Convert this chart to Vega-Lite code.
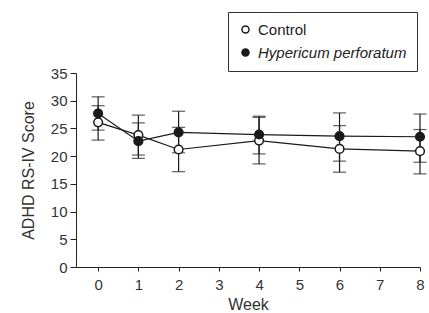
{
  "$schema": "https://vega.github.io/schema/vega-lite/v6.json",
  "autosize": "none",
  "width": 344,
  "height": 194,
  "padding": {"left": 76, "top": 73, "right": 9, "bottom": 46},
  "background": "white",
  "config": {
    "view": {"stroke": null},
    "font": "Liberation Sans",
    "axis": {
      "grid": false,
      "domainColor": "#222",
      "tickColor": "#222",
      "labelColor": "#333",
      "titleColor": "#333",
      "labelFontSize": 15,
      "titleFontSize": 16,
      "titleFontWeight": "normal",
      "labelFont": "Liberation Sans",
      "titleFont": "Liberation Sans",
      "labelOverlap": false
    }
  },
  "data": {
    "values": [
      {"week": 0, "group": "Control", "mean": 26.1, "lo": 22.9, "hi": 29.1},
      {"week": 1, "group": "Control", "mean": 23.8, "lo": 20.2, "hi": 27.4},
      {"week": 2, "group": "Control", "mean": 21.2, "lo": 17.2, "hi": 25.2},
      {"week": 4, "group": "Control", "mean": 22.8, "lo": 18.6, "hi": 27.0},
      {"week": 6, "group": "Control", "mean": 21.3, "lo": 17.1, "hi": 25.5},
      {"week": 8, "group": "Control", "mean": 20.9, "lo": 16.8, "hi": 24.8},
      {"week": 0, "group": "Hypericum perforatum", "mean": 27.7, "lo": 24.7, "hi": 30.7},
      {"week": 1, "group": "Hypericum perforatum", "mean": 22.7, "lo": 19.6, "hi": 26.0},
      {"week": 2, "group": "Hypericum perforatum", "mean": 24.3, "lo": 20.6, "hi": 28.1},
      {"week": 4, "group": "Hypericum perforatum", "mean": 23.9, "lo": 20.4, "hi": 27.2},
      {"week": 6, "group": "Hypericum perforatum", "mean": 23.6, "lo": 19.1, "hi": 27.8},
      {"week": 8, "group": "Hypericum perforatum", "mean": 23.5, "lo": 18.9, "hi": 27.6}
    ]
  },
  "encoding": {
    "x": {
      "field": "week", "type": "quantitative",
      "scale": {"domain": [-0.55, 8], "nice": false, "zero": false},
      "axis": {"values": [0, 1, 2, 3, 4, 5, 6, 7, 8], "title": "Week", "tickSize": 4, "labelPadding": 6, "titlePadding": 4, "labelFlush": false}
    }
  },
  "layer": [
    {
      "mark": {"type": "line", "color": "#1a1a1a", "strokeWidth": 1.2},
      "encoding": {
        "y": {
          "field": "mean", "type": "quantitative", "title": "ADHD RS-IV Score",
          "scale": {"domain": [0, 35], "nice": false},
          "axis": {"values": [0, 5, 10, 15, 20, 25, 30, 35], "title": "ADHD RS-IV Score", "tickSize": 6, "labelPadding": 3, "titlePadding": 14}
        },
        "detail": {"field": "group"}
      }
    },
    {
      "mark": {"type": "errorbar", "color": "#1a1a1a", "thickness": 1.2, "ticks": {"size": 13, "thickness": 1.2, "color": "#1a1a1a"}},
      "encoding": {
        "y": {
          "field": "lo", "type": "quantitative", "title": "ADHD RS-IV Score",
          "scale": {"domain": [0, 35], "nice": false},
          "axis": {"values": [0, 5, 10, 15, 20, 25, 30, 35], "title": "ADHD RS-IV Score", "tickSize": 6, "labelPadding": 3, "titlePadding": 14}
        },
        "y2": {"field": "hi"},
        "detail": {"field": "group"}
      }
    },
    {
      "mark": {"type": "point", "shape": "circle", "filled": true, "stroke": "#1a1a1a", "strokeWidth": 1.5, "size": 75, "opacity": 1},
      "encoding": {
        "y": {
          "field": "mean", "type": "quantitative", "title": "ADHD RS-IV Score",
          "scale": {"domain": [0, 35], "nice": false},
          "axis": {"values": [0, 5, 10, 15, 20, 25, 30, 35], "title": "ADHD RS-IV Score", "tickSize": 6, "labelPadding": 3, "titlePadding": 14}
        },
        "fill": {
          "field": "group", "type": "nominal",
          "scale": {"domain": ["Control", "Hypericum perforatum"], "range": ["white", "#1a1a1a"]},
          "legend": {
            "title": null,
            "orient": "none",
            "legendX": 152,
            "legendY": -61,
            "strokeColor": "#333",
            "padding": 10,
            "rowPadding": 7,
            "symbolType": "circle",
            "symbolSize": 50,
            "symbolStrokeColor": "#1a1a1a",
            "symbolStrokeWidth": 1.5,
            "labelFontSize": 15,
            "labelColor": "#222",
            "labelFont": "Liberation Sans",
            "labelOffset": 5,
            "labelFontStyle": {"expr": "datum.label == 'Control' ? 'normal' : 'italic'"}
          }
        }
      }
    }
  ]
}
